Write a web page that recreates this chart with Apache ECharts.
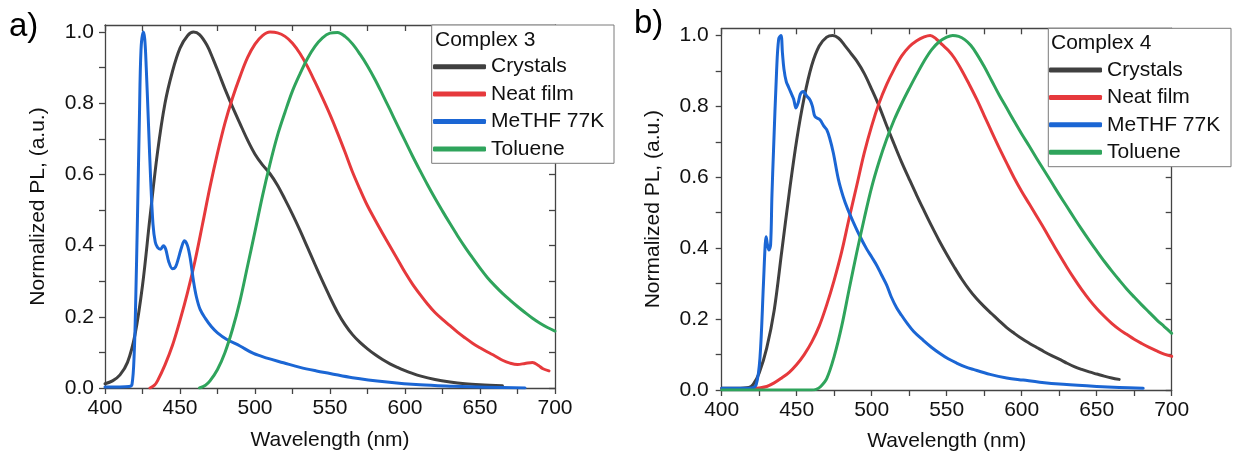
<!DOCTYPE html>
<html><head><meta charset="utf-8">
<script src="https://cdn.jsdelivr.net/npm/echarts@6/dist/echarts.min.js"></script>
<style>html,body{margin:0;padding:0;background:#fff}#c{width:1233px;height:457px}</style>
</head><body><div id="c"></div>
<script>
// ---------- data ----------
const X_LABELS = [400, 450, 500, 550, 600, 650, 700];
const X_TICKS = [400, 425, 450, 475, 500, 525, 550, 575, 600, 625, 650, 675, 700];
const Y_LABELS = [0, 0.2, 0.4, 0.6, 0.8, 1.0];
const Y_TICKS = [0, 0.1, 0.2, 0.3, 0.4, 0.5, 0.6, 0.7, 0.8, 0.9, 1.0];
const SERIES_NAMES = ['Crystals', 'Neat film', 'MeTHF 77K', 'Toluene'];
const PANEL_TITLES = ['Complex 3', 'Complex 4'];

// Panel a) Complex 3  [wavelength nm, normalized PL]
const aCrystals = [[400,0.012],[405,0.02],[410,0.037],[415,0.072],[420,0.15],[425,0.288],[430,0.48],[435,0.662],[440,0.8],[445,0.89],[450,0.955],[455,0.99],[459,1.0],[463,0.993],[468,0.963],[472,0.925],[476,0.883],[480,0.84],[485,0.79],[490,0.743],[495,0.697],[500,0.657],[505,0.627],[510,0.602],[515,0.57],[520,0.53],[525,0.488],[530,0.443],[535,0.395],[540,0.347],[545,0.3],[550,0.255],[555,0.213],[560,0.178],[565,0.15],[570,0.128],[575,0.11],[580,0.094],[585,0.08],[590,0.068],[595,0.058],[600,0.049],[605,0.041],[610,0.034],[620,0.024],[630,0.017],[640,0.012],[650,0.009],[665,0.006]];
const aNeatFilm = [[430,0.0],[433,0.008],[435,0.02],[440,0.065],[445,0.12],[450,0.19],[455,0.268],[460,0.357],[465,0.46],[470,0.565],[475,0.66],[480,0.745],[485,0.815],[490,0.875],[495,0.928],[500,0.966],[505,0.99],[510,1.0],[515,0.998],[520,0.988],[525,0.969],[530,0.94],[535,0.903],[540,0.86],[545,0.815],[550,0.768],[555,0.717],[560,0.663],[565,0.607],[570,0.558],[575,0.512],[580,0.473],[585,0.435],[590,0.398],[595,0.362],[600,0.325],[605,0.292],[610,0.263],[615,0.236],[620,0.212],[625,0.193],[630,0.175],[635,0.157],[640,0.141],[645,0.126],[650,0.113],[655,0.101],[660,0.09],[665,0.078],[670,0.07],[675,0.066],[680,0.069],[685,0.072],[689,0.063],[692,0.054],[696,0.048]];
const aMeTHF = [[400,0.003],[410,0.003],[416,0.004],[418,0.01],[419.5,0.1],[420.5,0.25],[421.6,0.47],[422.9,0.75],[424,0.95],[425.5,1.0],[426.5,0.98],[427.5,0.9],[429,0.74],[430.5,0.58],[432,0.46],[433.5,0.41],[435,0.395],[437,0.39],[439,0.40],[440.5,0.39],[442.5,0.355],[445,0.335],[447,0.34],[449,0.365],[451,0.395],[453,0.414],[455,0.40],[457,0.36],[459,0.30],[461,0.255],[463.5,0.22],[467,0.195],[471,0.172],[475,0.155],[481,0.137],[490,0.118],[499,0.097],[508,0.084],[519,0.071],[530,0.058],[541,0.048],[550,0.041],[565,0.029],[588,0.017],[610,0.009],[632,0.005],[655,0.002],[680,0.0]];
const aToluene = [[463,0.0],[467,0.008],[470,0.02],[475,0.052],[480,0.10],[485,0.165],[490,0.245],[495,0.342],[500,0.44],[505,0.54],[510,0.63],[515,0.71],[520,0.775],[525,0.835],[530,0.883],[535,0.926],[540,0.96],[545,0.984],[550,0.997],[555,0.999],[560,0.988],[565,0.967],[570,0.938],[575,0.905],[580,0.867],[585,0.825],[590,0.782],[595,0.738],[600,0.695],[605,0.652],[610,0.611],[615,0.571],[620,0.533],[625,0.497],[630,0.462],[635,0.428],[640,0.396],[645,0.366],[650,0.337],[655,0.31],[660,0.287],[665,0.266],[670,0.247],[675,0.229],[680,0.212],[685,0.196],[690,0.182],[695,0.17],[700,0.16]];

// Panel b) Complex 4
const bCrystals = [[400,0.005],[410,0.005],[418,0.007],[421,0.016],[425,0.048],[430,0.118],[435,0.225],[440,0.39],[445,0.555],[450,0.705],[455,0.825],[460,0.915],[465,0.97],[470,0.995],[474,1.0],[478,0.992],[482,0.972],[486,0.95],[490,0.928],[495,0.893],[500,0.848],[505,0.8],[510,0.745],[515,0.693],[520,0.642],[525,0.595],[530,0.549],[535,0.505],[540,0.462],[545,0.421],[550,0.383],[555,0.347],[560,0.313],[565,0.283],[570,0.257],[575,0.235],[580,0.215],[585,0.195],[590,0.176],[595,0.16],[600,0.145],[605,0.132],[610,0.12],[615,0.108],[620,0.097],[625,0.087],[630,0.076],[635,0.066],[640,0.058],[645,0.051],[650,0.045],[655,0.039],[660,0.034],[665,0.03]];
const bNeatFilm = [[400,0.004],[420,0.004],[425,0.006],[430,0.01],[435,0.02],[440,0.034],[445,0.05],[450,0.072],[455,0.1],[460,0.135],[465,0.18],[470,0.24],[475,0.31],[480,0.39],[485,0.485],[490,0.576],[495,0.668],[500,0.745],[505,0.81],[510,0.862],[515,0.905],[520,0.942],[525,0.968],[530,0.985],[535,0.996],[539,1.0],[543,0.99],[547,0.974],[551,0.958],[555,0.937],[560,0.902],[565,0.862],[570,0.82],[575,0.774],[580,0.728],[585,0.683],[590,0.64],[595,0.598],[600,0.56],[605,0.525],[610,0.49],[615,0.455],[620,0.418],[625,0.382],[630,0.347],[635,0.314],[640,0.283],[645,0.255],[650,0.23],[655,0.208],[660,0.188],[665,0.171],[670,0.157],[675,0.143],[680,0.131],[685,0.12],[690,0.11],[695,0.101],[700,0.095]];
const bMeTHF = [[400,0.005],[410,0.005],[420,0.006],[423,0.015],[425.5,0.09],[427.8,0.296],[429,0.41],[429.6,0.432],[430.5,0.41],[431.5,0.395],[432.6,0.41],[433.5,0.55],[434.5,0.67],[436.6,0.90],[438,0.99],[439.5,1.0],[440.5,0.95],[441.5,0.905],[443,0.87],[444.5,0.855],[446,0.84],[448,0.82],[449.5,0.795],[451,0.81],[452.5,0.835],[454.5,0.842],[456.5,0.83],[458.9,0.818],[460.5,0.80],[462.2,0.771],[465.5,0.762],[468,0.745],[470,0.734],[472,0.71],[474.4,0.669],[477.8,0.594],[481,0.545],[484,0.51],[487.8,0.473],[492,0.435],[496.6,0.398],[500,0.375],[503.3,0.352],[506.5,0.325],[510,0.296],[513,0.263],[516.6,0.232],[520,0.21],[523.3,0.19],[528,0.165],[534.4,0.14],[540,0.12],[545.5,0.103],[551,0.088],[556.6,0.076],[562,0.066],[567.7,0.058],[578.9,0.044],[590,0.034],[601,0.028],[612,0.022],[627.7,0.016],[650,0.01],[665,0.007],[681,0.005]];
const bToluene = [[400,0.0],[460,0.0],[463,0.002],[466,0.01],[470,0.032],[475,0.095],[480,0.18],[485,0.285],[490,0.387],[495,0.483],[500,0.572],[505,0.645],[510,0.708],[515,0.762],[520,0.808],[525,0.85],[530,0.89],[535,0.928],[540,0.96],[545,0.982],[550,0.995],[554,1.0],[558,0.997],[562,0.988],[566,0.972],[570,0.948],[575,0.912],[580,0.872],[585,0.832],[590,0.795],[595,0.758],[600,0.722],[605,0.688],[610,0.653],[615,0.619],[620,0.585],[625,0.551],[630,0.518],[635,0.485],[640,0.453],[645,0.422],[650,0.392],[655,0.363],[660,0.336],[665,0.31],[670,0.285],[675,0.262],[680,0.24],[685,0.219],[690,0.198],[695,0.179],[700,0.16]];

// ---------- styling ----------
const COLORS = ['#404040', '#e6393c', '#1b66d4', '#2fa45c'];
const FONT = 'Liberation Sans, Arial, sans-serif';
const AX = '#444';
const TXT = '#111';

const chart = echarts.init(document.getElementById('c'), null, {renderer: 'canvas'});

const grids = [
  {left: 105, top: 25, width: 450, height: 363},
  {left: 721.7, top: 28.3, width: 450, height: 364}
];

function xAxes(g, nameGap) {
  return [
    {type: 'value', gridIndex: g, position: 'bottom', min: 400, max: 700,
     name: 'Wavelength (nm)', nameLocation: 'middle', nameGap: nameGap,
     nameTextStyle: {fontFamily: FONT, fontSize: 21, color: TXT},
     axisLine: {show: true, onZero: false, lineStyle: {color: AX, width: 1.3}},
     axisTick: {show: true, inside: false, length: 6, customValues: X_TICKS, lineStyle: {color: AX, width: 1.3}},
     axisLabel: {show: true, margin: 10, customValues: X_LABELS, fontFamily: FONT, fontSize: 21, color: TXT, formatter: v => String(Math.round(v))},
     splitLine: {show: false}},
    {type: 'value', gridIndex: g, position: 'top', min: 400, max: 700,
     axisLine: {show: true, onZero: false, lineStyle: {color: AX, width: 1.3}},
     axisTick: {show: true, inside: true, length: 6, customValues: X_TICKS, lineStyle: {color: AX, width: 1.3}},
     axisLabel: {show: false}, splitLine: {show: false}}
  ];
}
function yAxes(g, nameGap, labelMargin) {
  return [
    {type: 'value', gridIndex: g, position: 'left', min: 0, max: 1.02,
     name: 'Normalized PL, (a.u.)', nameLocation: 'middle', nameGap: nameGap,
     nameTextStyle: {fontFamily: FONT, fontSize: 21, color: TXT},
     axisLine: {show: true, onZero: false, lineStyle: {color: AX, width: 1.3}},
     axisTick: {show: true, inside: false, length: 6, customValues: Y_TICKS, lineStyle: {color: AX, width: 1.3}},
     axisLabel: {show: true, margin: labelMargin, customValues: Y_LABELS, fontFamily: FONT, fontSize: 21, color: TXT, formatter: v => v.toFixed(1)},
     splitLine: {show: false}},
    {type: 'value', gridIndex: g, position: 'right', min: 0, max: 1.02,
     axisLine: {show: true, onZero: false, lineStyle: {color: AX, width: 1.3}},
     axisTick: {show: true, inside: true, length: 6, customValues: Y_TICKS, lineStyle: {color: AX, width: 1.3}},
     axisLabel: {show: false}, splitLine: {show: false}}
  ];
}

const panelData = [[aCrystals, aNeatFilm, aMeTHF, aToluene], [bCrystals, bNeatFilm, bMeTHF, bToluene]];
const series = [];
panelData.forEach((sets, p) => {
  sets.forEach((d, i) => {
    series.push({
      type: 'line', name: SERIES_NAMES[i], data: d,
      xAxisIndex: p * 2, yAxisIndex: p * 2,
      showSymbol: false, smooth: 0.35,
      lineStyle: {color: COLORS[i], width: 3, join: 'round', cap: 'round'},
      itemStyle: {color: COLORS[i]},
      z: 2
    });
  });
});

function legend(left, top) {
  return {
    data: SERIES_NAMES, left: left, top: top, orient: 'vertical',
    padding: 0, itemGap: 5.4, itemWidth: 53, itemHeight: 5,
    icon: 'roundRect', selectedMode: false, z: 10,
    textStyle: {fontFamily: FONT, fontSize: 21, color: TXT, lineHeight: 22, padding: [0, 0, 0, 0]}
  };
}

const graphic = [
  {type: 'rect', z: 8, shape: {x: 431.7, y: 25, width: 182.3, height: 138.3},
   style: {fill: '#fff', stroke: '#7a7a7a', lineWidth: 1}},
  {type: 'rect', z: 8, shape: {x: 1048.3, y: 28.3, width: 182.7, height: 138.4},
   style: {fill: '#fff', stroke: '#7a7a7a', lineWidth: 1}},
  {type: 'text', z: 9, x: 435, y: 40, style: {text: PANEL_TITLES[0], font: '21px ' + FONT, fill: TXT, textVerticalAlign: 'middle', verticalAlign: 'middle'}},
  {type: 'text', z: 9, x: 1051, y: 43.3, style: {text: PANEL_TITLES[1], font: '21px ' + FONT, fill: TXT, textVerticalAlign: 'middle', verticalAlign: 'middle'}},
  {type: 'text', z: 9, x: 9, y: 27, style: {text: 'a)', font: '33px ' + FONT, fill: '#000', verticalAlign: 'middle', textVerticalAlign: 'middle'}},
  {type: 'text', z: 9, x: 634, y: 24, style: {text: 'b)', font: '33px ' + FONT, fill: '#000', verticalAlign: 'middle', textVerticalAlign: 'middle'}}
];

chart.setOption({
  animation: false,
  backgroundColor: '#fff',
  grid: grids,
  xAxis: [...xAxes(0, 42), ...xAxes(1, 41)],
  yAxis: [...yAxes(0, 56, 11), ...yAxes(1, 58, 13)],
  legend: [legend(433, 55.7), legend(1049, 59)],
  graphic: graphic,
  series: series
});
</script></body></html>
